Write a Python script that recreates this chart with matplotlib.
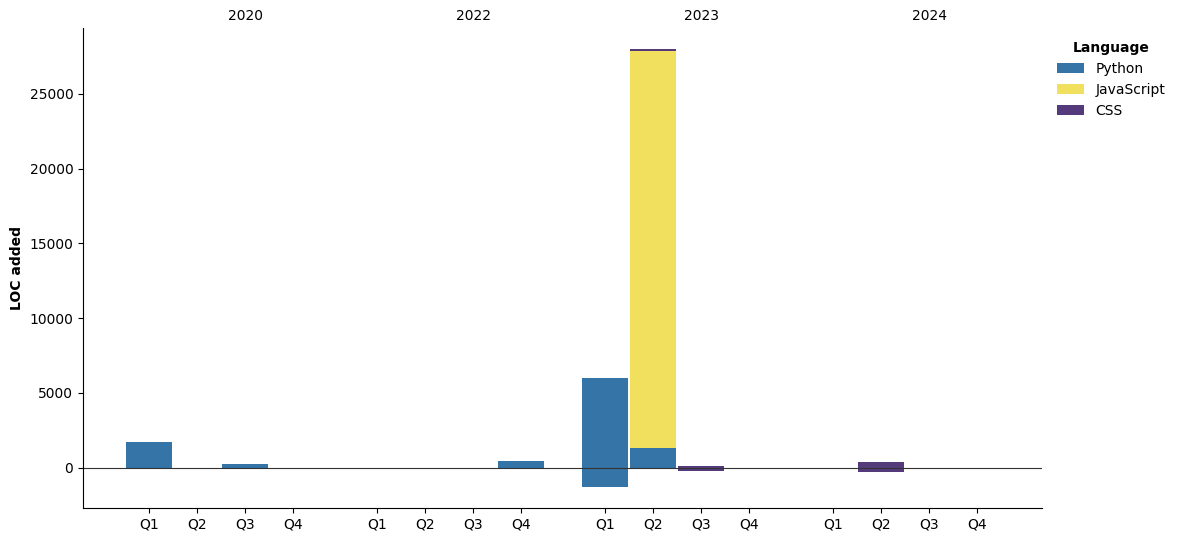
import matplotlib
matplotlib.use("Agg")
import matplotlib.pyplot as plt
import numpy as np

years = ["2020", "2022", "2023", "2024"]
quarters = ["Q1", "Q2", "Q3", "Q4"]
languages = ["Python", "JavaScript", "CSS"]
colors = ["#3574a6", "#f0e05d", "#543a7b"]

# values per quarter (16 quarters: 4 years x 4 quarters)
python_add = [1700, 0, 230, 0, 0, 0, 0, 430, 6000, 1300, 0, 0, 0, 0, 0, 0]
python_del = [0, 0, 0, 0, 0, 0, 0, -100, -1300, 0, 0, 0, 0, 0, 0, 0]
js_add = [0, 0, 0, 0, 0, 0, 0, 0, 0, 26600, 0, 0, 0, 0, 0, 0]
js_del = [0] * 16
css_add = [0, 0, 0, 0, 0, 0, 0, 0, 0, 110, 100, 0, 0, 370, 0, 0]
css_del = [0, 0, 0, 0, 0, 0, 0, 0, 0, -110, -240, 0, 0, -300, 0, 0]

adds = [python_add, js_add, css_add]
dels = [python_del, js_del, css_del]

gap = 0.75
x = np.array([yi * (4 + gap) + qi for yi in range(len(years)) for qi in range(4)], dtype=float)
labels = [q for _ in years for q in quarters]

fig = plt.figure(figsize=(11.79, 5.42), dpi=100)
ax = fig.add_axes([0.0704, 0.0627, 0.8134, 0.8856])

pos_bottom = np.zeros(len(x))
neg_bottom = np.zeros(len(x))
handles = []
for lang, col, a, d in zip(languages, colors, adds, dels):
    a = np.array(a, dtype=float)
    d = np.array(d, dtype=float)
    h = ax.bar(x, a, bottom=pos_bottom, width=0.95, color=col, label=lang)
    ax.bar(x, d, bottom=neg_bottom, width=0.95, color=col)
    pos_bottom += a
    neg_bottom += d
    handles.append(h)

ax.axhline(0, color="#333333", lw=0.8)
ax.set_xticks(x)
ax.set_xticklabels(labels, fontsize=10)
ax.set_xlim(-1.375, 18.604)
ax.set_ylim(-2711, 29416)
ax.set_ylabel("LOC added", fontsize=10, fontweight="bold")
ax.spines["top"].set_visible(False)
ax.spines["right"].set_visible(False)

for yi, yr in enumerate(years):
    ax.text(yi * (4 + gap) + 2, 1.01, yr, transform=ax.get_xaxis_transform(),
            ha="center", va="bottom", fontsize=10)

leg = fig.legend(handles=handles, labels=languages, title="Language",
                 loc="upper left", bbox_to_anchor=(0.8855, 0.947), frameon=False,
                 fontsize=10, title_fontproperties={"weight": "bold", "size": 10})

fig.savefig("out.png", dpi=100)
